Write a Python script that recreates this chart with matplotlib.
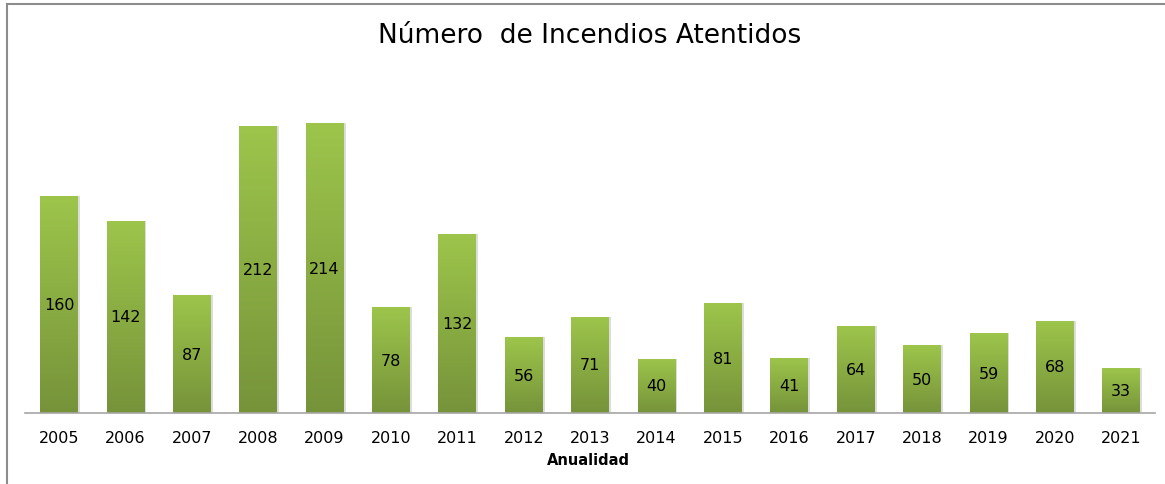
import numpy as np
import matplotlib
matplotlib.use("Agg")
import matplotlib.pyplot as plt
from matplotlib.lines import Line2D
from matplotlib.colors import LinearSegmentedColormap

# data
years = ["2005", "2006", "2007", "2008", "2009", "2010", "2011", "2012", "2013",
         "2014", "2015", "2016", "2017", "2018", "2019", "2020", "2021"]
fires = [160, 142, 87, 212, 214, 78, 132, 56, 71, 40, 81, 41, 64, 50, 59, 68, 33]

title = "Número  de Incendios Atentidos"
xlabel = "Anualidad"

plt.rcParams['font.family'] = ['DejaVu Sans']

fig = plt.figure(figsize=(11.65, 4.85), dpi=100)
ax = fig.add_axes([0.0215, 0.1464, 0.9700, 0.7031])

x = np.arange(len(years))
bars = ax.bar(x, fires, width=0.57, color="#8bb043", edgecolor="none", zorder=2)

# vertical gradient inside every bar: light on top, darker at the bottom
green = LinearSegmentedColormap.from_list("grn", ["#76933a", "#9dc54b"])
grad = np.linspace(0, 1, 256).reshape(-1, 1)
for b in bars:
    x0, w, h = b.get_x(), b.get_width(), b.get_height()
    # small soft shadow on the right
    ax.bar(x0 + w / 2 + 0.03, h, width=w, color="#dcdcdc", edgecolor="none",
           zorder=1)
    im = ax.imshow(grad, cmap=green, origin="lower", aspect="auto",
                   extent=(x0, x0 + w, 0, h), zorder=3)
    im.set_clip_path(b)
    b.set_alpha(0)

for xi, v in zip(x, fires):
    ax.text(xi, v / 2, str(v), ha="center", va="center", fontsize=11.5,
            color="black", zorder=4)

ax.set_xlim(-0.512, 16.51)
ax.set_ylim(0, 252)
ax.set_xticks(x)
ax.set_xticklabels(years, fontsize=11.5)
ax.tick_params(axis="x", length=0, pad=12)
ax.set_yticks([])
for s in ["top", "right", "left"]:
    ax.spines[s].set_visible(False)
ax.spines["bottom"].set_color("#a6a6a6")
ax.spines["bottom"].set_linewidth(1.2)
ax.spines["bottom"].set_zorder(5)

fig.text(0.505, 0.051, xlabel, ha="center", va="center", fontsize=10.5,
         fontweight="bold")
fig.text(0.506, 0.926, title, ha="center", va="center", fontsize=19)

# chart frame (only top and left edges show in the picture)
fig.add_artist(Line2D([0.006, 0.006], [0.0, 0.989], transform=fig.transFigure,
                      color="#8c8c8c", lw=1.5))
fig.add_artist(Line2D([0.006, 1.0], [0.989, 0.989], transform=fig.transFigure,
                      color="#8c8c8c", lw=1.5))

fig.savefig("out.png", dpi=100)
